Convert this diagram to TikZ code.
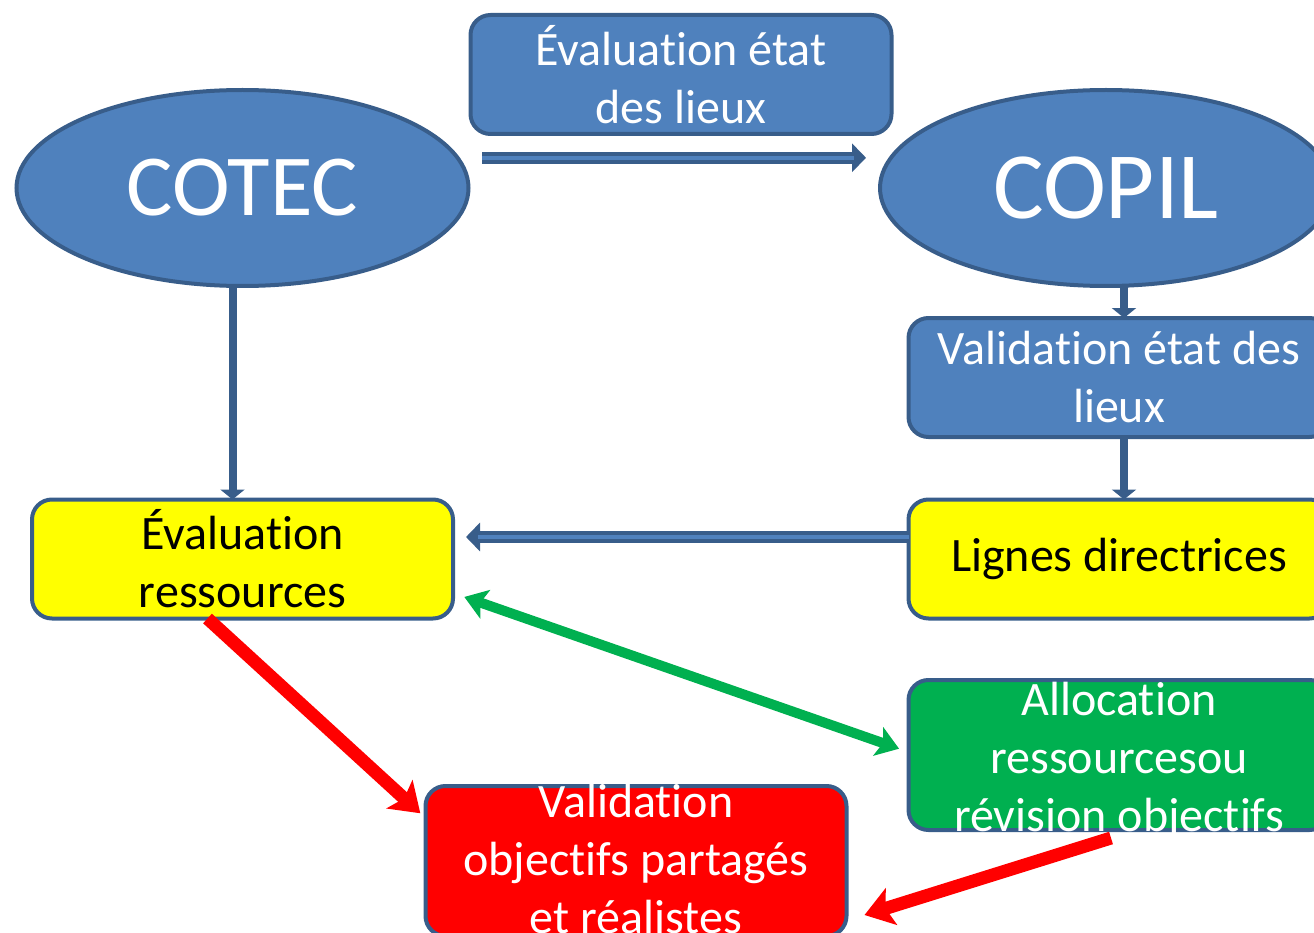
\documentclass[tikz,border=0pt]{standalone}
\usepackage{fontspec}
\setmainfont{Carlito}[Ligatures=NoCommon]
\usetikzlibrary{shapes.geometric, arrows.meta, positioning}
\definecolor{bleu}{HTML}{4F81BD}
\definecolor{bordure}{HTML}{385D8A}
\definecolor{jaune}{HTML}{FFFF00}
\definecolor{vert}{HTML}{00B050}
\definecolor{rouge}{HTML}{FF0000}
\tikzstyle{comite} = [ellipse, draw=bordure, line width=4pt, fill=bleu, text=white, minimum width=452pt, minimum height=196pt, inner sep=0pt, outer sep=0pt]
\tikzstyle{etape} = [rectangle, rounded corners=20pt, draw=bordure, line width=4pt, minimum width=421pt, minimum height=119pt, inner sep=0pt, outer sep=0pt, align=center, font=\fontsize{48}{58}\selectfont]
\tikzstyle{fleche} = [draw=bordure, line width=8pt, -{Triangle[length=10pt,width=24pt]}]
\tikzstyle{lien} = [draw=vert, line width=10pt, {Stealth[length=22pt,width=30pt,inset=5pt]}-{Stealth[length=22pt,width=30pt,inset=5pt]}]
\tikzstyle{retour} = [draw=rouge, line width=13pt, -{Stealth[length=28pt,width=38pt,inset=6pt]}]
\tikzset{renvoi/.style={draw=bordure, line width=12pt, -{Triangle[length=14pt,width=28pt]}, shorten >=#1,
    postaction={draw=bleu, line width=4pt, -, shorten >=#1+12pt}}}

\begin{document}
\begin{tikzpicture}[x=1pt, y=-1pt, node distance=181.5pt]
  \useasboundingbox (0,0) rectangle (1314,933);
  \clip (0,0) rectangle (1314,933);
  \node (cotec) [comite, font=\fontsize{87}{100}\selectfont] at (242.5,188) {COTEC};
  \node (copil) [comite, font=\fontsize{95}{110}\selectfont] at (1106,188) {COPIL};
  \node (etat) [etape, fill=bleu, text=white] at (681,74.5) {Évaluation état\\des lieux};
  \node (valid) [etape, fill=bleu, text=white, below of=copil, xshift=13pt, yshift=-8pt] {Validation état des\\lieux};
  \node (lignes) [etape, fill=jaune, below of=valid] {Lignes directrices};
  \node (alloc) [etape, fill=vert, text=white, minimum height=150pt, below of=lignes, yshift=-14.5pt]
    {\raisebox{-13pt}[0pt][0pt]{\begin{tabular}{@{}c@{}}Allocation\\ressourcesou\\révision objectifs\end{tabular}}};
  \node (evalres) [etape, fill=jaune, below of=cotec, yshift=-189.5pt] {Évaluation\\ressources};
  \node (objectifs) [etape, fill=rouge, text=white, minimum height=150pt, below of=evalres, xshift=393.5pt, yshift=-120.5pt]
    {\raisebox{-9pt}[0pt][0pt]{\begin{tabular}{@{}c@{}}Validation\\objectifs partagés\\et réalistes\end{tabular}}};
  % liaisons
  \draw [renvoi=25pt, shorten <=25pt] (cotec.8) -- (copil.172);
  \draw [fleche] ([xshift=-10pt]cotec.south) -- ([xshift=-10pt]evalres.north);
  \draw [fleche] ([xshift=18pt]copil.south) -- ([xshift=5pt]valid.north);
  \draw [fleche] ([xshift=5pt]valid.south) -- ([xshift=5pt]lignes.north);
  \draw [renvoi=13pt] ([yshift=22pt]lignes.west) -- ([yshift=22pt]evalres.east);
  \draw [lien, shorten <=12pt, shorten >=10pt] ([yshift=-34pt]evalres.east) -- ([yshift=3pt]alloc.west);
  \draw [retour, shorten >=7pt] ([xshift=-35pt]evalres.south) -- ([yshift=43pt]objectifs.west);
  \draw [retour] ([xshift=-8pt,yshift=-8pt]alloc.south) -- ([xshift=18pt,yshift=-54pt]objectifs.east);
\end{tikzpicture}
\end{document}
